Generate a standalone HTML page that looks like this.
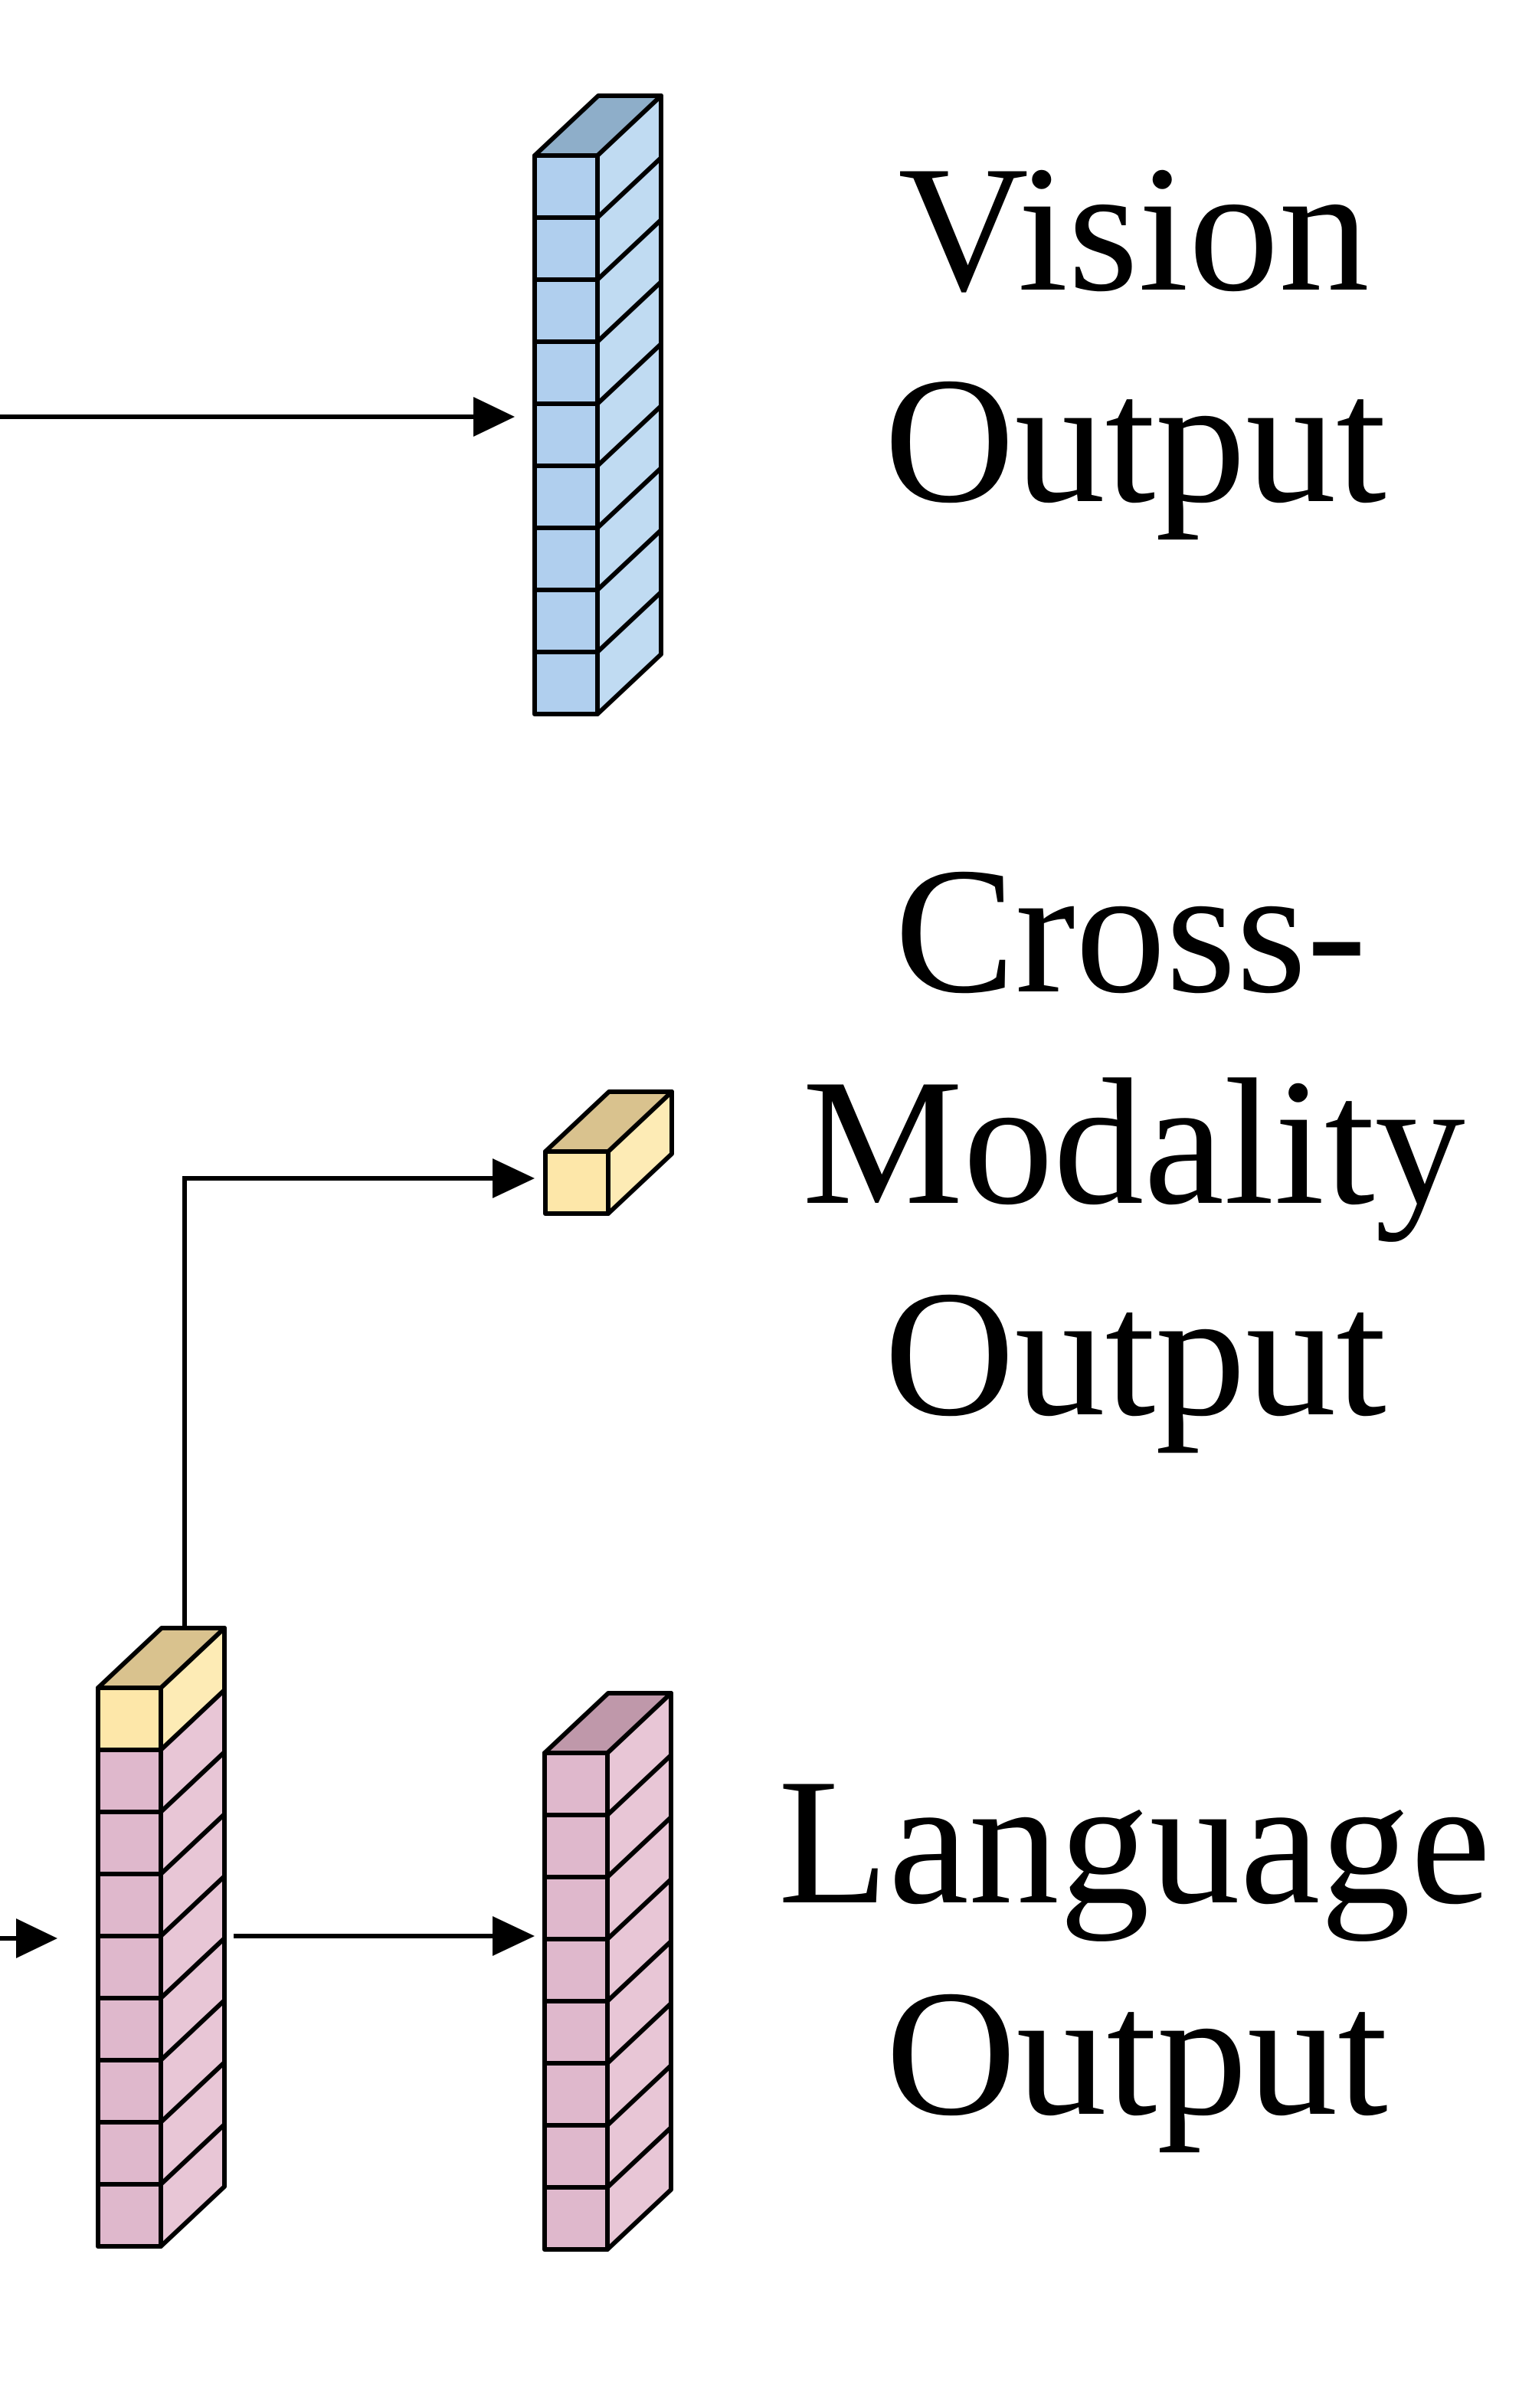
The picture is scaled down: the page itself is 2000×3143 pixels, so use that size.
<!DOCTYPE html>
<html><head><meta charset="utf-8"><style>
html,body{margin:0;padding:0;background:#fff;}
svg{display:block;}
text{font-family:"Liberation Serif",serif;font-size:236px;fill:#000;text-anchor:middle;}
</style></head><body>
<svg width="2000" height="3143" viewBox="0 0 2000 3143" xmlns="http://www.w3.org/2000/svg">
<defs>
<g id="cb" stroke="#000" stroke-width="6" stroke-linejoin="round">
<polygon points="82,0 165,-78 165,3 82,81" fill="#c0dbf2"/>
<rect x="0" y="0" width="82" height="81" fill="#b0cfee"/>
</g>
<g id="cp" stroke="#000" stroke-width="6" stroke-linejoin="round">
<polygon points="82,0 165,-78 165,3 82,81" fill="#e8c6d6"/>
<rect x="0" y="0" width="82" height="81" fill="#dfb8cc"/>
</g>
<g id="cy" stroke="#000" stroke-width="6" stroke-linejoin="round">
<polygon points="82,0 165,-78 165,3 82,81" fill="#fdebb5"/>
<rect x="0" y="0" width="82" height="81" fill="#fde7a9"/>
</g>
</defs>

<!-- Vision stack -->
<g transform="translate(698,203)">
<use href="#cb" y="0"/><use href="#cb" y="81"/><use href="#cb" y="162"/><use href="#cb" y="243"/><use href="#cb" y="324"/><use href="#cb" y="405"/><use href="#cb" y="486"/><use href="#cb" y="567"/><use href="#cb" y="648"/>
<polygon points="0,0 83,-78 165,-78 82,0" fill="#8eaec9" stroke="#000" stroke-width="6" stroke-linejoin="round"/>
</g>

<!-- Left language stack -->
<g transform="translate(128,2203)">
<use href="#cy" y="0"/><use href="#cp" y="81"/><use href="#cp" y="162"/><use href="#cp" y="243"/><use href="#cp" y="324"/><use href="#cp" y="405"/><use href="#cp" y="486"/><use href="#cp" y="567"/><use href="#cp" y="648"/>
<polygon points="0,0 83,-78 165,-78 82,0" fill="#d9c28e" stroke="#000" stroke-width="6" stroke-linejoin="round"/>
</g>

<!-- Right language stack -->
<g transform="translate(711,2288)">
<use href="#cp" y="0"/><use href="#cp" y="81"/><use href="#cp" y="162"/><use href="#cp" y="243"/><use href="#cp" y="324"/><use href="#cp" y="405"/><use href="#cp" y="486"/><use href="#cp" y="567"/>
<polygon points="0,0 83,-78 165,-78 82,0" fill="#bf98aa" stroke="#000" stroke-width="6" stroke-linejoin="round"/>
</g>

<!-- Cross-modality cube -->
<g transform="translate(712,1503)">
<use href="#cy" y="0"/>
<polygon points="0,0 83,-78 165,-78 82,0" fill="#d9c28e" stroke="#000" stroke-width="6" stroke-linejoin="round"/>
</g>

<!-- Arrows -->
<g stroke="#000" stroke-width="6" fill="none">
<line x1="0" y1="544" x2="625" y2="544"/>
<line x1="305" y1="2527" x2="650" y2="2527"/>
<line x1="0" y1="2530" x2="30" y2="2530"/>
<polyline points="241,2125 241,1538 650,1538"/>
</g>
<g fill="#000">
<polygon points="618,518 672,544 618,570"/>
<polygon points="643,2501 698,2527 643,2553"/>
<polygon points="21,2504 75,2530 21,2556"/>
<polygon points="643,1512 698,1538 643,1564"/>
</g>

<!-- Labels -->
<text x="1480" y="378">Vision</text>
<text x="1482" y="654">Output</text>
<text x="1476" y="1294">Cross-</text>
<text x="1480" y="1570">Modality</text>
<text x="1482" y="1846">Output</text>
<text x="1481" y="2483">Language</text>
<text x="1484" y="2759">Output</text>
</svg>
</body></html>
